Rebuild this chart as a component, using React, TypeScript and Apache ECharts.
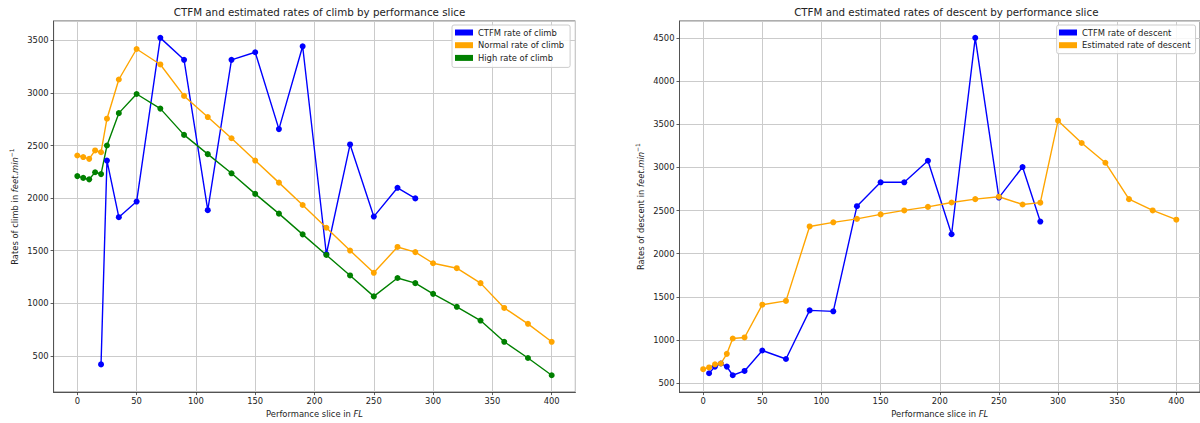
import React, { useEffect, useRef } from "react";
import * as echarts from "echarts";

// ---- Data ----
const estSlices = [0, 5, 10, 15, 20, 25, 35, 50, 70, 90, 110, 130, 150, 170, 190, 210, 230, 250, 270, 285, 300, 320, 340, 360, 380, 400];
const ctfmClimbSlices = [20, 25, 35, 50, 70, 90, 110, 130, 150, 170, 190, 210, 230, 250, 270, 285];
const ctfmClimb = [418, 2357, 1818, 1967, 3524, 3315, 1885, 3315, 3387, 2656, 3444, 1468, 2510, 1824, 2098, 1997];
const normalClimb = [2405, 2390, 2373, 2453, 2436, 2755, 3128, 3418, 3271, 2972, 2771, 2569, 2357, 2147, 1934, 1718, 1501, 1289, 1535, 1486, 1380, 1333, 1191, 955, 804, 633];
const highClimb = [2209, 2192, 2178, 2246, 2228, 2500, 2808, 2990, 2851, 2601, 2418, 2236, 2040, 1852, 1655, 1459, 1264, 1065, 1240, 1191, 1089, 966, 835, 633, 479, 315];

const ctfmDescentSlices = [5, 10, 15, 20, 25, 35, 50, 70, 90, 110, 130, 150, 170, 190, 210, 230, 250, 270, 285];
const ctfmDescent = [613, 690, 726, 690, 590, 640, 877, 778, 1342, 1331, 2550, 2827, 2827, 3077, 2225, 4502, 2650, 3004, 2372];
const estDescent = [660, 680, 717, 726, 838, 1016, 1028, 1408, 1452, 2315, 2363, 2403, 2455, 2501, 2542, 2593, 2632, 2660, 2570, 2591, 3542, 3283, 3054, 2632, 2501, 2394];

const climbNames = ["CTFM rate of climb", "Normal rate of climb", "High rate of climb"];
const descentNames = ["CTFM rate of descent", "Estimated rate of descent"];
const titles = [
  "CTFM and estimated rates of climb by performance slice",
  "CTFM and estimated rates of descent by performance slice",
];

const FONT = "DejaVu Sans";
const TXT = "#222";
const BLUE = "#0000ff";
const ORANGE = "#ffa500";
const GREEN = "#008000";

const zip = (xs: number[], ys: number[]) => xs.map((x, i) => [x, ys[i]]);
const plain = (v: number) => String(v);

const richName = {
  i: { fontStyle: "italic", fontSize: 8.4, fontFamily: FONT, color: TXT },
  s: { fontSize: 6, fontFamily: FONT, color: TXT, verticalAlign: "top", lineHeight: 12 },
};

function xAxis(gridIndex: number) {
  return {
    type: "value",
    gridIndex,
    min: -20,
    max: 420,
    splitNumber: 9,
    axisLine: { show: true, onZero: false, lineStyle: { color: "#333", width: 0.8 } },
    axisTick: { show: true, length: 3, lineStyle: { color: "#333", width: 0.8 } },
    axisLabel: { fontFamily: FONT, fontSize: 8.4, color: TXT, margin: 5, showMinLabel: false, showMaxLabel: false, formatter: plain },
    splitLine: { show: true, lineStyle: { color: "#cbcbcb", width: 1 } },
    name: "Performance slice in {i|FL}",
    nameLocation: "middle",
    nameGap: 16,
    nameTextStyle: { fontFamily: FONT, fontSize: 8.4, color: TXT, rich: richName },
  };
}

function yAxis(gridIndex: number, min: number, max: number, splitNumber: number, label: string) {
  return {
    type: "value",
    gridIndex,
    min,
    max,
    splitNumber,
    axisLine: { show: true, onZero: false, lineStyle: { color: "#333", width: 0.8 } },
    axisTick: { show: true, length: 3, lineStyle: { color: "#333", width: 0.8 } },
    axisLabel: { fontFamily: FONT, fontSize: 8.4, color: TXT, margin: 5, showMinLabel: false, showMaxLabel: false, formatter: plain },
    splitLine: { show: true, lineStyle: { color: "#cbcbcb", width: 1 } },
    name: label + " {i|feet}.{i|min}{s|\u22121}",
    nameLocation: "middle",
    nameGap: 33,
    nameTextStyle: { fontFamily: FONT, fontSize: 8.4, color: TXT, rich: richName },
  };
}

function lineSeries(name: string, data: number[][], color: string, idx: number) {
  return {
    type: "line",
    name,
    xAxisIndex: idx,
    yAxisIndex: idx,
    data,
    symbol: "circle",
    symbolSize: 6,
    showSymbol: true,
    lineStyle: { color, width: 1.4 },
    itemStyle: { color },
    emphasis: { disabled: true },
  };
}

function legend(data: string[], left: number, padding: number[]) {
  return {
    data,
    orient: "vertical",
    left,
    top: 25,
    icon: "rect",
    itemWidth: 18,
    itemHeight: 6,
    itemGap: 1.7,
    padding,
    backgroundColor: "rgba(255,255,255,0.85)",
    borderColor: "#cccccc",
    borderWidth: 1,
    borderRadius: 2,
    selectedMode: false,
    textStyle: { fontFamily: FONT, fontSize: 8.4, color: TXT, lineHeight: 11 },
  };
}

export default function App() {
  const ref = useRef<HTMLDivElement>(null);
  useEffect(() => {
    const chart = echarts.init(ref.current!, null, { renderer: "svg" });
    chart.setOption({
      animation: false,
      backgroundColor: "#ffffff",
      title: [
        { text: titles[0], left: 314.5, top: 2, textAlign: "center", textStyle: { fontFamily: FONT, fontSize: 10.3, fontWeight: "normal", color: TXT } },
        { text: titles[1], left: 941.3, top: 2, textAlign: "center", textStyle: { fontFamily: FONT, fontSize: 10.3, fontWeight: "normal", color: TXT } },
      ],
      grid: [
        { left: 53.6, top: 21, width: 521.8, height: 374, show: true, borderColor: "#333", borderWidth: 0.8, backgroundColor: "transparent" },
        { left: 679.5, top: 21, width: 523.5, height: 374, show: true, borderColor: "#333", borderWidth: 0.8, backgroundColor: "transparent" },
      ],
      xAxis: [xAxis(0), xAxis(1)],
      yAxis: [
        yAxis(0, 154.5, 3684.5, 7, "Rates of climb in"),
        yAxis(1, 394.4, 4697.6, 8, "Rates of descent in"),
      ],
      legend: [
        legend(climbNames, 452, [2, 6, 4, 3]),
        legend(descentNames, 1056.7, [2, 5, 3, 2.3]),
      ],
      series: [
        lineSeries(climbNames[0], zip(ctfmClimbSlices, ctfmClimb), BLUE, 0),
        lineSeries(climbNames[1], zip(estSlices, normalClimb), ORANGE, 0),
        lineSeries(climbNames[2], zip(estSlices, highClimb), GREEN, 0),
        lineSeries(descentNames[0], zip(ctfmDescentSlices, ctfmDescent), BLUE, 1),
        lineSeries(descentNames[1], zip(estSlices, estDescent), ORANGE, 1),
      ],
    });
    return () => chart.dispose();
  }, []);
  return (
    <div
      ref={ref}
      style={{ position: "fixed", left: 0, top: 0, width: 1200, height: 423, background: "#fff" }}
    />
  );
}
